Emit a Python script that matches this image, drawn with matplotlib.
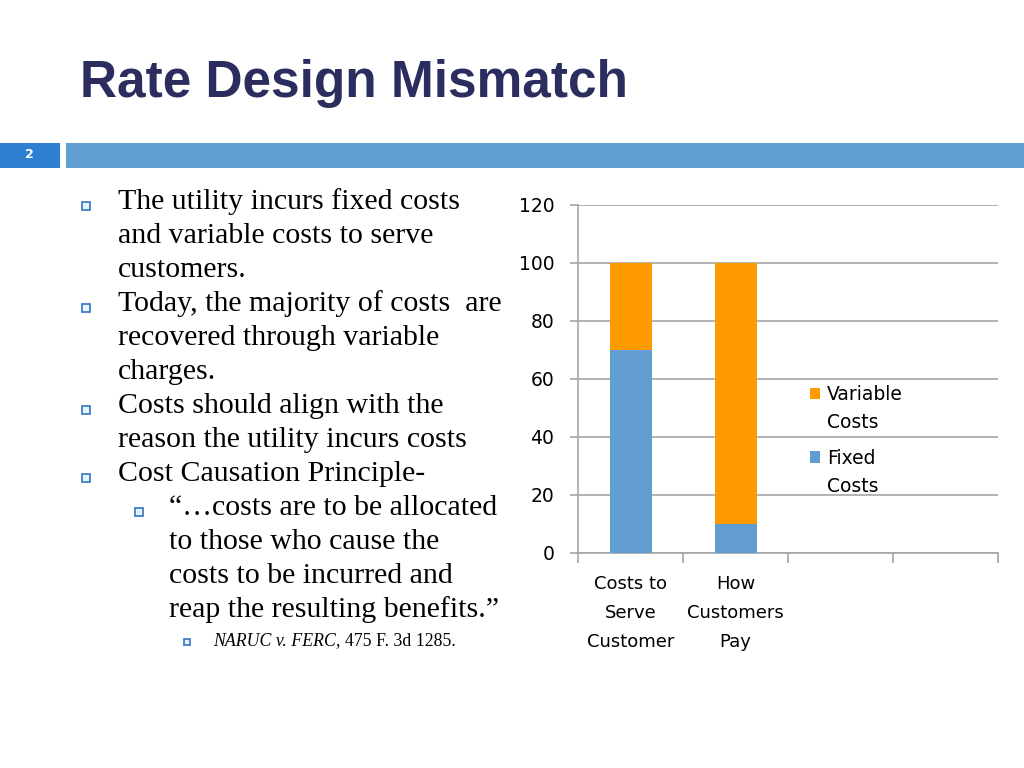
import matplotlib
matplotlib.use("Agg")
import matplotlib.pyplot as plt
from matplotlib.patches import Rectangle, Patch
from matplotlib.legend_handler import HandlerPatch
import numpy as np

categories = ["Costs to\nServe\nCustomer", "How\nCustomers\nPay", "", ""]
fixed_costs = [70, 10, 0, 0]
variable_costs = [30, 90, 0, 0]
y_ticks = [0, 20, 40, 60, 80, 100, 120]
series_labels = ["Variable\nCosts", "Fixed\nCosts"]

title = "Rate Design Mismatch"
slide_number = "2"
bullets = [
    (0, ["The utility incurs fixed costs", "and variable costs to serve", "customers."]),
    (0, ["Today, the majority of costs  are", "recovered through variable", "charges."]),
    (0, ["Costs should align with the", "reason the utility incurs costs"]),
    (0, ["Cost Causation Principle-"]),
    (1, ["\u201c\u2026costs are to be allocated", "to those who cause the", "costs to be incurred and", "reap the resulting benefits.\u201d"]),
]
citation_italic = "NARUC v. FERC"
citation_rest = ", 475 F. 3d 1285."

BLUE = "#629DD1"
ORANGE = "#FF9900"
NAVY = "#2A2D5E"
CHART_FONT = ["DejaVu Sans"]
SERIF = ["Liberation Serif", "DejaVu Serif"]

W, H = 1024, 768
fig = plt.figure(figsize=(W / 100, H / 100), dpi=100)
fig.patch.set_facecolor("white")

def fx(px):
    return px / W

def fy(py):
    return 1 - py / H

# Title
fig.text(fx(80), fy(83), title, fontsize=37, fontweight="bold", color=NAVY,
         family=["Liberation Sans", "DejaVu Sans"], va="center", ha="left")

# Header band
fig.patches.append(Rectangle((fx(0), fy(168)), fx(60), (168 - 143) / H,
                             transform=fig.transFigure, facecolor="#2F7FD1", edgecolor="none"))
fig.patches.append(Rectangle((fx(66), fy(168)), fx(1024 - 66), (168 - 143) / H,
                             transform=fig.transFigure, facecolor="#629FD3", edgecolor="none"))
fig.text(fx(29), fy(155), slide_number, fontsize=9, color="white", fontweight="bold",
         ha="center", va="center", family=["Liberation Sans Narrow", "DejaVu Sans"])

# Bullet text
def bullet_box(xc, yc, size):
    fig.patches.append(Rectangle((fx(xc - size / 2), fy(yc + size / 2)), size / W, size / H,
                                 transform=fig.transFigure, facecolor="#EAF2FB",
                                 edgecolor="#3F7FC4", linewidth=1.3))

y = 202
for level, lines in bullets:
    if level == 0:
        bx, tx = 86, 118
    else:
        bx, tx = 139, 169
    bullet_box(bx, y + 4, 8)
    for ln in lines:
        fig.text(fx(tx), fy(y), ln, fontsize=21.5, family=SERIF, color="black",
                 ha="left", va="center")
        y += 34

# citation
bullet_box(187, 642, 6)
t_it = fig.text(fx(213), fy(641), citation_italic, fontsize=12.8, family=SERIF,
                style="italic", ha="left", va="center")
fig.canvas.draw()
bb = t_it.get_window_extent(renderer=fig.canvas.get_renderer())
fig.text(bb.x1 / W, fy(641), citation_rest, fontsize=12.8, family=SERIF,
         ha="left", va="center")

# Chart
ax = fig.add_axes([fx(578), fy(553), fx(998 - 578), (553 - 205) / H])
x = np.arange(len(categories))
ax.bar(x, fixed_costs, width=0.4, color=BLUE, zorder=3)
ax.bar(x, variable_costs, width=0.4, bottom=fixed_costs, color=ORANGE, zorder=3)
ax.set_xlim(-0.5, len(categories) - 0.5)
ax.set_ylim(0, 120)
ax.set_yticks(y_ticks)
ax.set_yticklabels([str(v) for v in y_ticks], fontsize=13.5, family=CHART_FONT)
ax.yaxis.grid(True, color="#A6A6A6", linewidth=1.2, zorder=0)
ax.tick_params(axis="y", length=6, color="#A6A6A6", width=1.2, pad=11)
ax.set_xticks(np.arange(len(categories) + 1) - 0.5)
ax.set_xticklabels([])
ax.tick_params(axis="x", length=7, color="#A6A6A6", width=1.2)
for i, lab in enumerate(categories):
    ax.text(i, -7.6, lab, ha="center", va="top", fontsize=13, family=CHART_FONT,
            linespacing=1.8, transform=ax.transData, clip_on=False)
for s in ["top", "right"]:
    ax.spines[s].set_visible(False)
for s in ["left", "bottom"]:
    ax.spines[s].set_color("#A6A6A6")
    ax.spines[s].set_linewidth(1.2)


def top_aligned_patch(legend, orig_handle, xdescent, ydescent, width, height, fontsize):
    # raise the square so it sits beside the first line of the two-line label
    return Rectangle((-xdescent, -ydescent + 11.5), width, height)


handles = [Patch(facecolor=ORANGE, edgecolor="none"), Patch(facecolor=BLUE, edgecolor="none")]
leg = ax.legend(handles, series_labels, loc="upper left", bbox_to_anchor=(0.552, 0.482),
                frameon=False, prop={"family": CHART_FONT, "size": 13.5},
                handlelength=0.55, handleheight=0.55, handletextpad=0.35, labelspacing=0.87,
                borderpad=0, borderaxespad=0,
                handler_map={Patch: HandlerPatch(patch_func=top_aligned_patch)})
for t in leg.get_texts():
    t.set_linespacing(1.6)

fig.savefig("out.png", dpi=100, facecolor="white")
